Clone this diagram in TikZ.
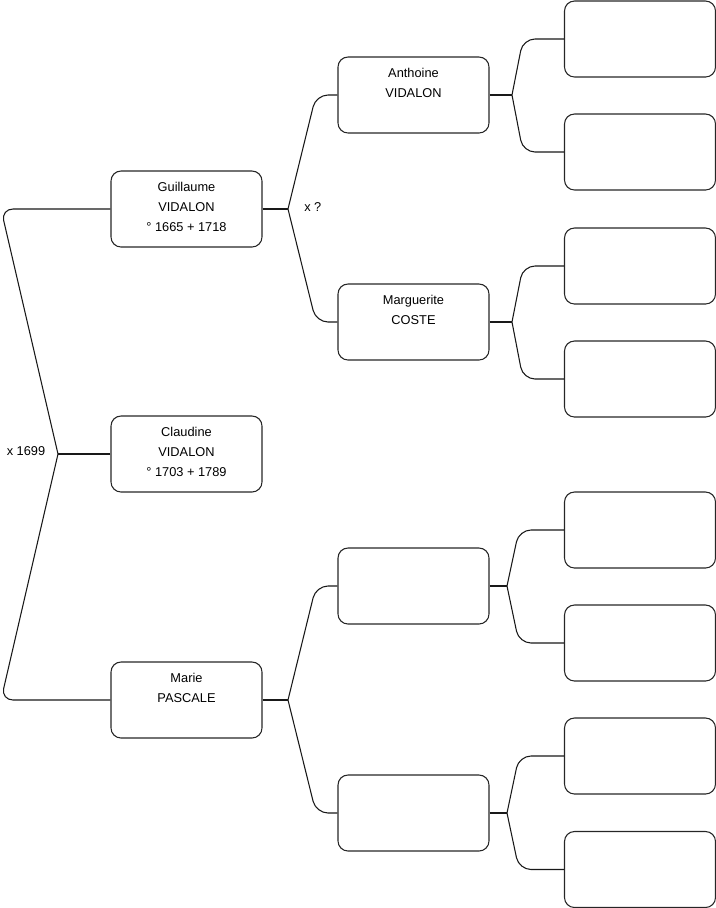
\documentclass[tikz,border=0pt]{standalone}
\usepackage{fontspec}
\setmainfont{Liberation Sans}
\begin{document}
\begin{tikzpicture}[x=0.75pt,y=-0.75pt,
  person/.style={draw=black!85,line width=0.8pt,rectangle,rounded corners=7.5pt,
    minimum width=113.25pt,minimum height=57pt,inner sep=0pt,align=center,
    font=\fontsize{9.6}{15}\selectfont},
  link/.style={draw=black!90,line width=0.8pt},
  lbl/.style={font=\fontsize{9.6}{11}\selectfont,inner sep=0pt}]
\useasboundingbox (0,0) rectangle (716,908);
% generation 1
\node[person] (guillaume) at (186.5,209) {Guillaume\\VIDALON\\° 1665 + 1718\\[-12pt]};
\node[person] (claudine) at (186.5,454) {Claudine\\VIDALON\\° 1703 + 1789\\[-12pt]};
\node[person] (marie) at (186.5,700) {Marie\\PASCALE\\~\\[-12pt]};
% generation 2
\node[person] (anthoine) at (413.5,95) {Anthoine\\VIDALON\\~\\[-12pt]};
\node[person] (marguerite) at (413.5,322) {Marguerite\\COSTE\\~\\[-12pt]};
\node[person] (b1) at (413.5,586) {};
\node[person] (b2) at (413.5,813) {};
% generation 3
\node[person] (g1) at (640,39) {};
\node[person] (g2) at (640,152) {};
\node[person] (g3) at (640,266) {};
\node[person] (g4) at (640,379) {};
\node[person] (g5) at (640,530) {};
\node[person] (g6) at (640,643) {};
\node[person] (g7) at (640,756) {};
\node[person] (g8) at (640,869.5) {};
% labels
\node[lbl] (x1699) at (26,451) {x 1699};
\node[lbl,anchor=west] (xq) at (304,207) {x ?};
% apexes and bends
\coordinate (a0) at (58,454);
\coordinate (c0u) at (1,209);
\coordinate (c0d) at (1,700);
\coordinate (a1) at (288,209);
\coordinate (c1u) at (316,95);
\coordinate (c1d) at (316,322);
\coordinate (a2) at (288,700);
\coordinate (c2u) at (316,586);
\coordinate (c2d) at (316,813);
\coordinate (a3) at (512,95);
\coordinate (c3u) at (523,39);
\coordinate (c3d) at (523,152);
\coordinate (a4) at (512,322);
\coordinate (c4u) at (523,266);
\coordinate (c4d) at (523,379);
\coordinate (a5) at (507,586);
\coordinate (c5u) at (519,530);
\coordinate (c5d) at (519,643);
\coordinate (a6) at (507,813);
\coordinate (c6u) at (519,756);
\coordinate (c6d) at (519,869.5);
% connectors
\draw[link] (claudine.west) -- (a0);
\draw[link,rounded corners=9pt] (a0) -- (c0u) -- (guillaume.west);
\draw[link,rounded corners=9pt] (a0) -- (c0d) -- (marie.west);
\draw[link] (guillaume.east) -- (a1);
\draw[link,rounded corners=9pt] (a1) -- (c1u) -- (anthoine.west);
\draw[link,rounded corners=9pt] (a1) -- (c1d) -- (marguerite.west);
\draw[link] (marie.east) -- (a2);
\draw[link,rounded corners=9pt] (a2) -- (c2u) -- (b1.west);
\draw[link,rounded corners=9pt] (a2) -- (c2d) -- (b2.west);
\draw[link] (anthoine.east) -- (a3);
\draw[link,rounded corners=9pt] (a3) -- (c3u) -- (g1.west);
\draw[link,rounded corners=9pt] (a3) -- (c3d) -- (g2.west);
\draw[link] (marguerite.east) -- (a4);
\draw[link,rounded corners=9pt] (a4) -- (c4u) -- (g3.west);
\draw[link,rounded corners=9pt] (a4) -- (c4d) -- (g4.west);
\draw[link] (b1.east) -- (a5);
\draw[link,rounded corners=9pt] (a5) -- (c5u) -- (g5.west);
\draw[link,rounded corners=9pt] (a5) -- (c5d) -- (g6.west);
\draw[link] (b2.east) -- (a6);
\draw[link,rounded corners=9pt] (a6) -- (c6u) -- (g7.west);
\draw[link,rounded corners=9pt] (a6) -- (c6d) -- (g8.west);
\end{tikzpicture}
\end{document}
